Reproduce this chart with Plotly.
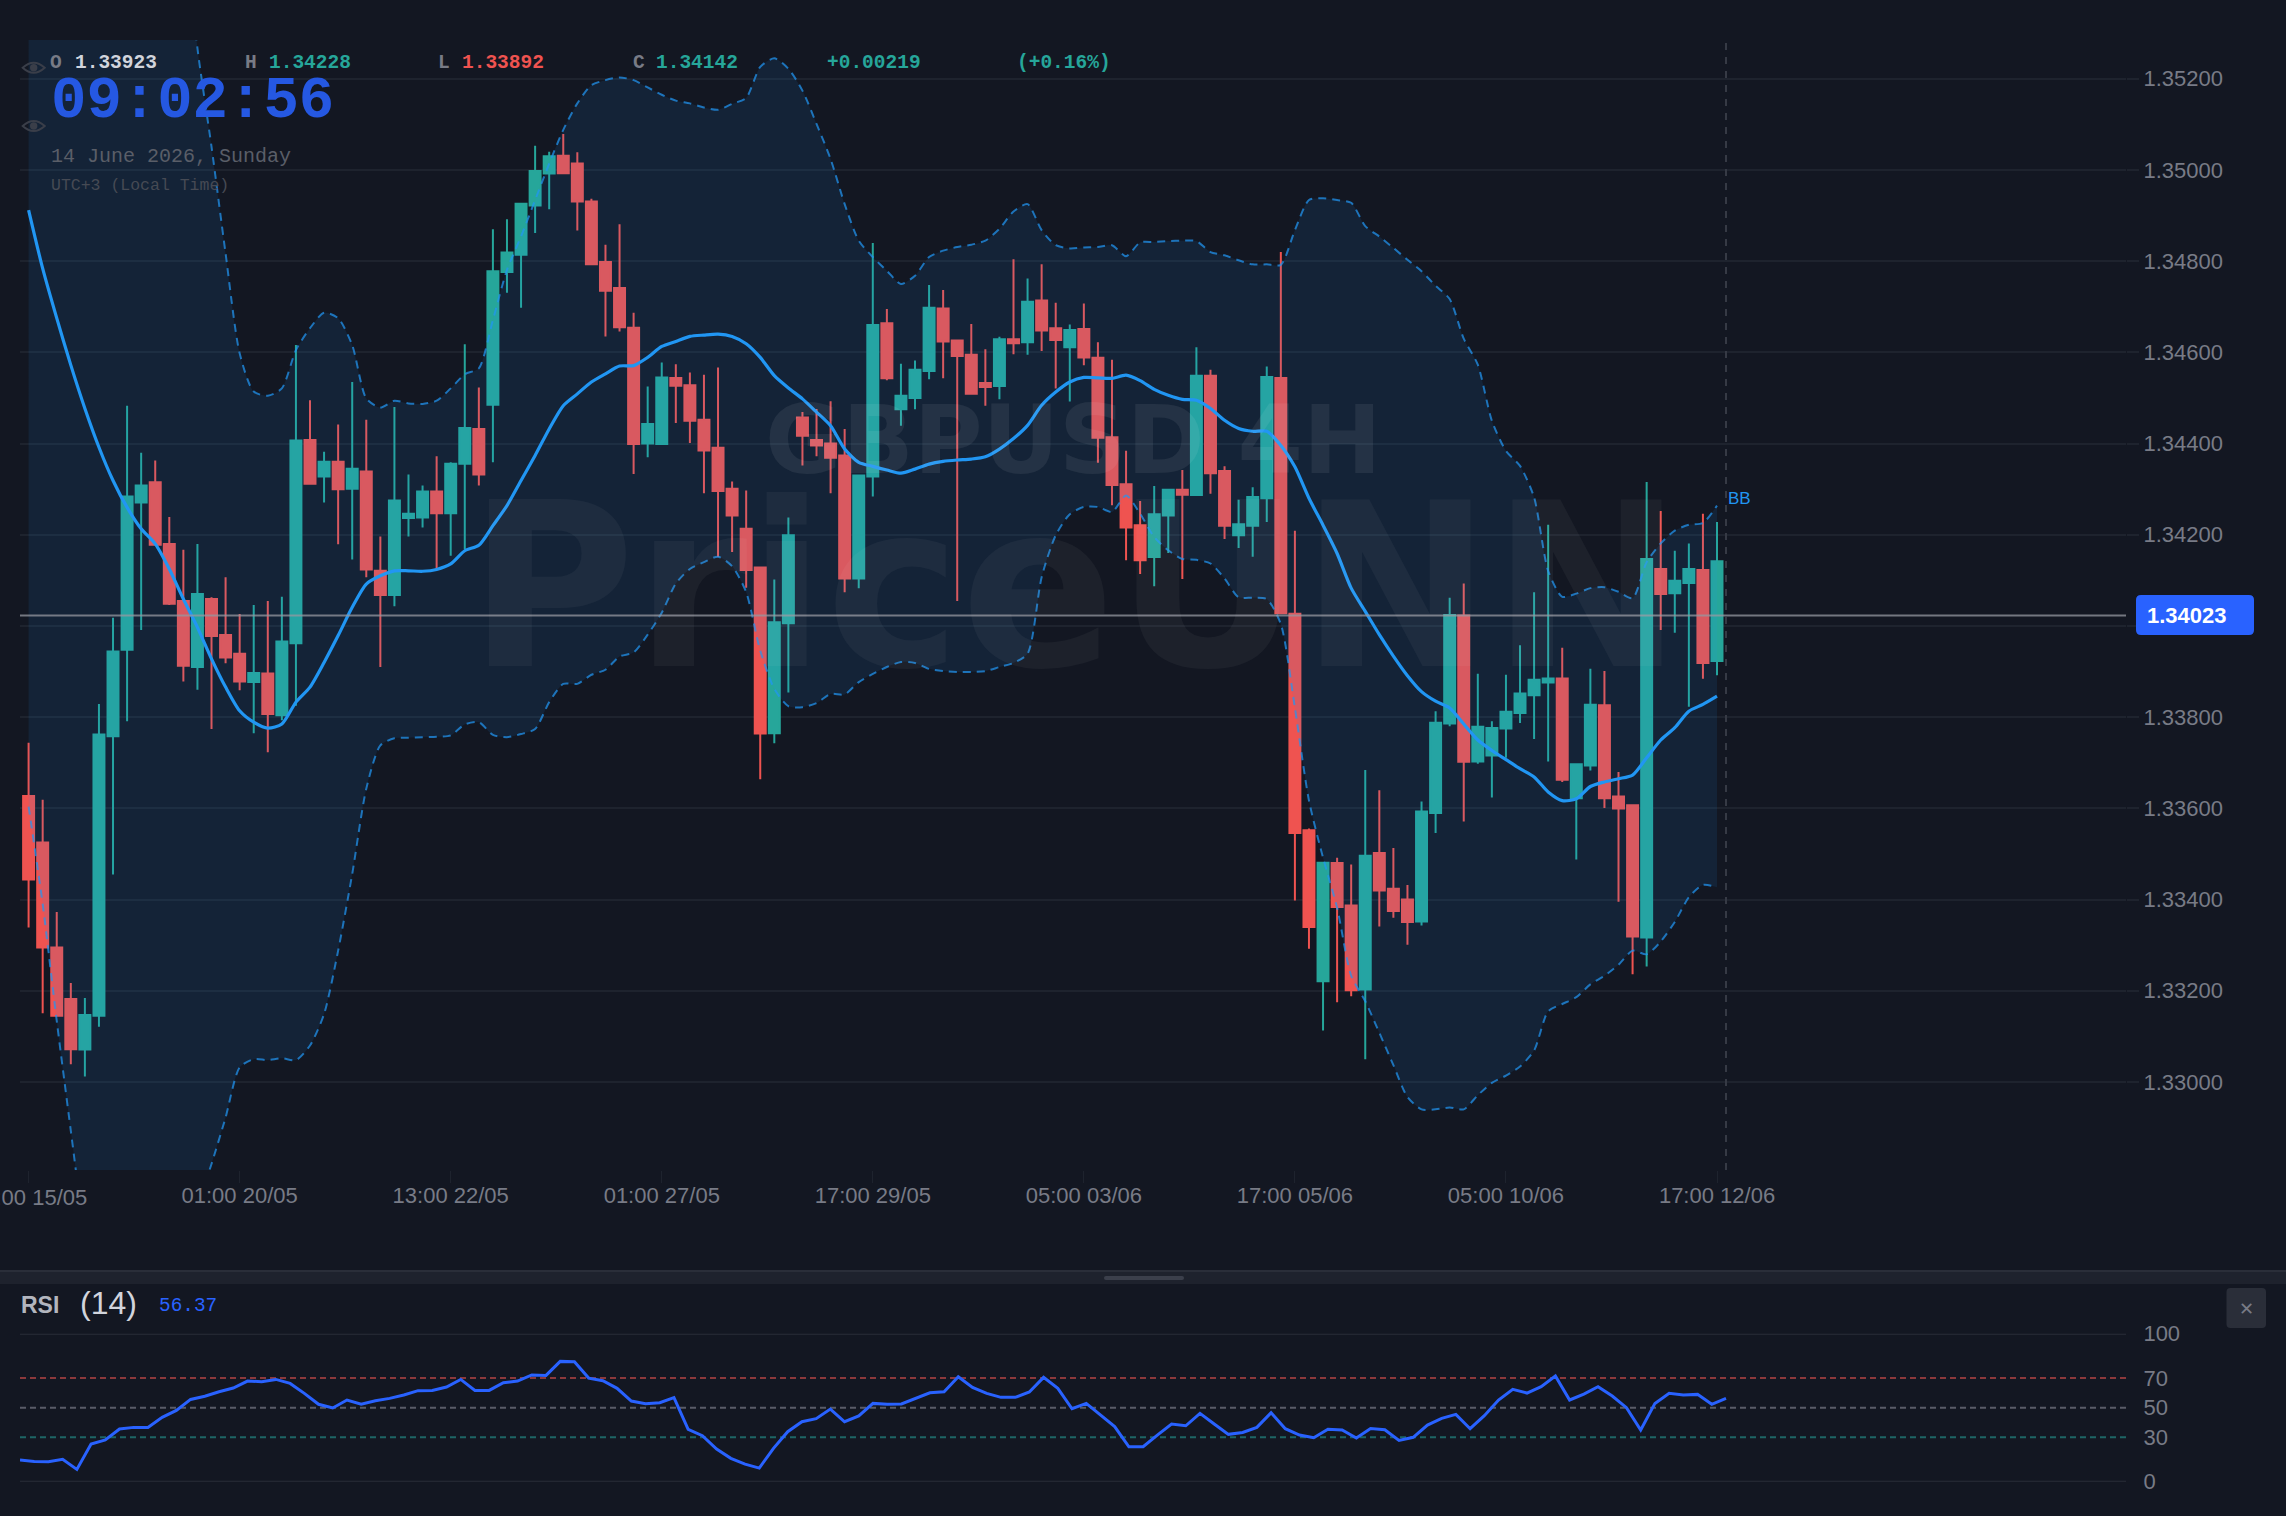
import plotly.graph_objects as go

W, H = 2286, 1516

# GBPUSD 4H candles
open_prices = [
    1.33627, 1.33525, 1.33295, 1.33182, 1.33071, 1.33145, 1.33758, 1.33948, 1.34271, 1.34315,
    1.34180, 1.34055, 1.33910, 1.34059, 1.33980, 1.33939, 1.33877, 1.33896, 1.33804, 1.33962,
    1.34408, 1.34328, 1.34360, 1.34301, 1.34339, 1.34121, 1.34068, 1.34237, 1.34238, 1.34295,
    1.34247, 1.34356, 1.34432, 1.34485, 1.34776, 1.34814, 1.34922, 1.34992, 1.35031, 1.35014,
    1.34931, 1.34798, 1.34741, 1.34654, 1.34400, 1.34399, 1.34544, 1.34528, 1.34452, 1.34391,
    1.34301, 1.34213, 1.34128, 1.33765, 1.34006, 1.34457, 1.34408, 1.34400, 1.34374, 1.34104,
    1.34328, 1.34664, 1.34475, 1.34500, 1.34559, 1.34696, 1.34626, 1.34595, 1.34533, 1.34526,
    1.34629, 1.34622, 1.34714, 1.34653, 1.34611, 1.34651, 1.34588, 1.34414, 1.34311, 1.34221,
    1.34151, 1.34242, 1.34299, 1.34287, 1.34549, 1.34340, 1.34199, 1.34220, 1.34280, 1.34544,
    1.34027, 1.33552, 1.33221, 1.33480, 1.33387, 1.33203, 1.33502, 1.33424, 1.33400, 1.33352,
    1.33590, 1.33786, 1.34023, 1.33703, 1.33716, 1.33775, 1.33809, 1.33848, 1.33876, 1.33885,
    1.33622, 1.33694, 1.33826, 1.33626, 1.33607, 1.33317, 1.34125, 1.34072, 1.34094, 1.34123,
    1.33923,
]
high_prices = [
    1.33744, 1.33619, 1.33373, 1.33217, 1.33184, 1.33829, 1.34018, 1.34483, 1.34380, 1.34363,
    1.34239, 1.34167, 1.34180, 1.34063, 1.34107, 1.34026, 1.34046, 1.34055, 1.34064, 1.34616,
    1.34495, 1.34382, 1.34442, 1.34535, 1.34452, 1.34196, 1.34480, 1.34332, 1.34308, 1.34372,
    1.34359, 1.34618, 1.34523, 1.34870, 1.34892, 1.34928, 1.35053, 1.35040, 1.35079, 1.35039,
    1.34937, 1.34836, 1.34881, 1.34687, 1.34525, 1.34578, 1.34574, 1.34556, 1.34551, 1.34567,
    1.34317, 1.34297, 1.34128, 1.34102, 1.34238, 1.34469, 1.34476, 1.34493, 1.34432, 1.34332,
    1.34840, 1.34695, 1.34575, 1.34582, 1.34748, 1.34737, 1.34628, 1.34662, 1.34607, 1.34634,
    1.34804, 1.34762, 1.34793, 1.34709, 1.34661, 1.34707, 1.34622, 1.34584, 1.34384, 1.34274,
    1.34307, 1.34300, 1.34342, 1.34611, 1.34562, 1.34350, 1.34277, 1.34304, 1.34569, 1.34820,
    1.34209, 1.33556, 1.33481, 1.33492, 1.33477, 1.33684, 1.33640, 1.33513, 1.33432, 1.33615,
    1.33813, 1.34062, 1.34093, 1.33895, 1.33791, 1.33893, 1.33958, 1.34074, 1.34222, 1.33952,
    1.33697, 1.33906, 1.33901, 1.33680, 1.33607, 1.34316, 1.34252, 1.34165, 1.34181, 1.34246,
    1.34228,
]
low_prices = [
    1.33339, 1.33151, 1.33143, 1.33039, 1.33012, 1.33121, 1.33455, 1.33791, 1.33991, 1.34178,
    1.34046, 1.33878, 1.33860, 1.33774, 1.33918, 1.33859, 1.33765, 1.33723, 1.33793, 1.33825,
    1.34310, 1.34271, 1.34179, 1.34146, 1.34107, 1.33910, 1.34043, 1.34196, 1.34216, 1.34125,
    1.34154, 1.34169, 1.34308, 1.34359, 1.34731, 1.34698, 1.34862, 1.34914, 1.34993, 1.34867,
    1.34792, 1.34635, 1.34646, 1.34333, 1.34370, 1.34399, 1.34445, 1.34401, 1.34291, 1.34151,
    1.34162, 1.34084, 1.33664, 1.33743, 1.33854, 1.34352, 1.34372, 1.34291, 1.34074, 1.34083,
    1.34284, 1.34539, 1.34439, 1.34475, 1.34541, 1.34543, 1.34055, 1.34507, 1.34483, 1.34497,
    1.34596, 1.34595, 1.34603, 1.34521, 1.34492, 1.34572, 1.34358, 1.34265, 1.34144, 1.34114,
    1.34087, 1.34160, 1.34103, 1.34287, 1.34290, 1.34191, 1.34171, 1.34152, 1.34228, 1.34028,
    1.33398, 1.33292, 1.33113, 1.33175, 1.33188, 1.33050, 1.33341, 1.33360, 1.33301, 1.33343,
    1.33546, 1.33780, 1.33571, 1.33698, 1.33624, 1.33711, 1.33787, 1.33752, 1.33703, 1.33658,
    1.33488, 1.33683, 1.33601, 1.33395, 1.33236, 1.33253, 1.33991, 1.33985, 1.33823, 1.33884,
    1.33892,
]
close_prices = [
    1.33444, 1.33295, 1.33145, 1.33072, 1.33147, 1.33762, 1.33944, 1.34284, 1.34308, 1.34178,
    1.34049, 1.33913, 1.34070, 1.33978, 1.33931, 1.33878, 1.33897, 1.33807, 1.33966, 1.34407,
    1.34312, 1.34360, 1.34300, 1.34345, 1.34124, 1.34068, 1.34275, 1.34246, 1.34295, 1.34247,
    1.34356, 1.34434, 1.34332, 1.34778, 1.34819, 1.34926, 1.34998, 1.35030, 1.34993, 1.34931,
    1.34793, 1.34735, 1.34655, 1.34399, 1.34443, 1.34545, 1.34527, 1.34450, 1.34385, 1.34296,
    1.34242, 1.34123, 1.33764, 1.34008, 1.34199, 1.34417, 1.34396, 1.34369, 1.34104, 1.34330,
    1.34660, 1.34543, 1.34505, 1.34562, 1.34698, 1.34624, 1.34592, 1.34509, 1.34524, 1.34629,
    1.34620, 1.34711, 1.34648, 1.34627, 1.34649, 1.34589, 1.34413, 1.34309, 1.34216, 1.34144,
    1.34245, 1.34299, 1.34288, 1.34549, 1.34335, 1.34220, 1.34223, 1.34283, 1.34546, 1.34028,
    1.33546, 1.33340, 1.33481, 1.33384, 1.33201, 1.33496, 1.33420, 1.33375, 1.33351, 1.33593,
    1.33788, 1.34024, 1.33702, 1.33779, 1.33776, 1.33812, 1.33852, 1.33882, 1.33885, 1.33663,
    1.33697, 1.33827, 1.33622, 1.33600, 1.33319, 1.34147, 1.34070, 1.34099, 1.34125, 1.33919,
    1.34142,
]

# Bollinger Bands
bb_upper = [
    1.36220, 1.36178, 1.36216, 1.36251, 1.36294, 1.36284, 1.36258, 1.36200, 1.36126, 1.36060,
    1.35910, 1.35568, 1.35267, 1.35051, 1.34817, 1.34598, 1.34514, 1.34505, 1.34521, 1.34605,
    1.34653, 1.34687, 1.34675, 1.34616, 1.34499, 1.34479, 1.34494, 1.34488, 1.34487, 1.34494,
    1.34521, 1.34552, 1.34565, 1.34671, 1.34781, 1.34854, 1.34934, 1.35014, 1.35088, 1.35146,
    1.35186, 1.35197, 1.35203, 1.35197, 1.35181, 1.35165, 1.35152, 1.35146, 1.35137, 1.35132,
    1.35145, 1.35158, 1.35226, 1.35245, 1.35222, 1.35174, 1.35101, 1.35024, 1.34925, 1.34845,
    1.34809, 1.34779, 1.34750, 1.34768, 1.34809, 1.34823, 1.34831, 1.34836, 1.34845, 1.34871,
    1.34909, 1.34925, 1.34868, 1.34835, 1.34828, 1.34830, 1.34831, 1.34835, 1.34811, 1.34841,
    1.34842, 1.34844, 1.34845, 1.34844, 1.34820, 1.34813, 1.34802, 1.34793, 1.34793, 1.34792,
    1.34868, 1.34934, 1.34938, 1.34934, 1.34928, 1.34877, 1.34854, 1.34829, 1.34803, 1.34778,
    1.34746, 1.34717, 1.34630, 1.34573, 1.34450, 1.34384, 1.34351, 1.34282, 1.34121, 1.34064,
    1.34071, 1.34083, 1.34085, 1.34075, 1.34061, 1.34140, 1.34181, 1.34209, 1.34222, 1.34226,
    1.34264,
]
bb_middle = [
    1.34912, 1.34784, 1.34675, 1.34572, 1.34477, 1.34392, 1.34319, 1.34260, 1.34213, 1.34180,
    1.34125, 1.34059, 1.33997, 1.33928, 1.33866, 1.33814, 1.33789, 1.33776, 1.33785, 1.33833,
    1.33866, 1.33920, 1.33979, 1.34041, 1.34092, 1.34110, 1.34121, 1.34121, 1.34120, 1.34124,
    1.34136, 1.34165, 1.34177, 1.34220, 1.34264, 1.34319, 1.34374, 1.34432, 1.34483, 1.34509,
    1.34535, 1.34553, 1.34570, 1.34571, 1.34589, 1.34613, 1.34624, 1.34635, 1.34638, 1.34640,
    1.34635, 1.34619, 1.34589, 1.34549, 1.34522, 1.34498, 1.34469, 1.34439, 1.34388, 1.34359,
    1.34350, 1.34342, 1.34335, 1.34344, 1.34355, 1.34361, 1.34364, 1.34366, 1.34371, 1.34388,
    1.34411, 1.34440, 1.34484, 1.34513, 1.34535, 1.34545, 1.34544, 1.34543, 1.34550, 1.34538,
    1.34519, 1.34506, 1.34497, 1.34495, 1.34477, 1.34451, 1.34433, 1.34427, 1.34427, 1.34396,
    1.34349, 1.34280, 1.34221, 1.34159, 1.34083, 1.34032, 1.33981, 1.33934, 1.33891, 1.33856,
    1.33835, 1.33820, 1.33785, 1.33750, 1.33727, 1.33707, 1.33687, 1.33669, 1.33636, 1.33617,
    1.33621, 1.33648, 1.33658, 1.33665, 1.33673, 1.33711, 1.33750, 1.33777, 1.33813, 1.33828,
    1.33846,
]
bb_lower = [
    1.33604, 1.33390, 1.33134, 1.32893, 1.32660, 1.32500, 1.32380, 1.32320, 1.32300, 1.32300,
    1.32340, 1.32550, 1.32727, 1.32820, 1.32922, 1.33032, 1.33050, 1.33048, 1.33052, 1.33048,
    1.33080, 1.33149, 1.33288, 1.33456, 1.33643, 1.33738, 1.33754, 1.33755, 1.33756, 1.33757,
    1.33760, 1.33784, 1.33789, 1.33761, 1.33756, 1.33763, 1.33774, 1.33833, 1.33873, 1.33873,
    1.33893, 1.33904, 1.33933, 1.33942, 1.33981, 1.34029, 1.34093, 1.34125, 1.34140, 1.34152,
    1.34131, 1.34074, 1.33946, 1.33862, 1.33824, 1.33822, 1.33831, 1.33851, 1.33850, 1.33877,
    1.33895, 1.33910, 1.33921, 1.33919, 1.33906, 1.33901, 1.33899, 1.33899, 1.33901, 1.33910,
    1.33919, 1.33939, 1.34107, 1.34199, 1.34245, 1.34261, 1.34261, 1.34250, 1.34286, 1.34246,
    1.34195, 1.34166, 1.34147, 1.34145, 1.34137, 1.34104, 1.34063, 1.34062, 1.34059, 1.34004,
    1.33820, 1.33617, 1.33492, 1.33382, 1.33233, 1.33177, 1.33108, 1.33037, 1.32967, 1.32940,
    1.32940, 1.32944, 1.32940, 1.32971, 1.32998, 1.33014, 1.33034, 1.33069, 1.33155, 1.33171,
    1.33186, 1.33214, 1.33233, 1.33257, 1.33288, 1.33280, 1.33308, 1.33351, 1.33405, 1.33432,
    1.33427,
]

# RSI (14)
rsi_values = [
    14.6, 13.7, 13.5, 15.1, 8.3, 25.5, 28.2, 35.6, 36.7, 36.7,
    43.5, 48.2, 55.6, 57.7, 60.8, 63.3, 68.0, 67.6, 69.1, 66.4,
    59.7, 52.3, 49.8, 55.2, 52.3, 54.7, 56.3, 58.6, 61.5, 61.7,
    64.0, 69.1, 61.7, 61.7, 66.9, 68.0, 72.1, 71.8, 81.3, 81.1,
    70.0, 68.2, 63.1, 54.5, 52.7, 53.4, 56.8, 35.4, 31.1, 22.1,
    15.8, 11.9, 9.2, 22.5, 33.8, 40.5, 42.6, 49.1, 40.5, 44.4,
    52.9, 52.3, 52.5, 56.3, 60.1, 60.8, 70.9, 63.7, 59.7, 57.0,
    57.0, 60.6, 70.5, 63.1, 49.3, 52.9, 45.0, 37.2, 23.6, 23.6,
    31.5, 39.0, 37.8, 46.2, 39.0, 32.0, 33.3, 36.7, 46.6, 35.8,
    31.5, 29.7, 35.4, 34.9, 29.5, 36.0, 35.1, 27.9, 30.0, 38.3,
    42.8, 45.5, 35.8, 44.6, 55.2, 62.4, 59.9, 64.2, 71.4, 55.2,
    59.2, 64.2, 57.9, 50.0, 34.9, 52.9, 59.7, 58.6, 59.0, 52.3,
    56.37,
]
rsi_levels = [100, 70, 50, 30, 0]

candle_index = list(range(len(open_prices)))
time_ticks = [0, 15, 30, 45, 60, 75, 90, 105, 120]
time_labels = ["13:00 15/05", "01:00 20/05", "13:00 22/05", "01:00 27/05", "17:00 29/05",
               "05:00 03/06", "17:00 05/06", "05:00 10/06", "17:00 12/06"]
price_ticks = [1.33, 1.332, 1.334, 1.336, 1.338, 1.34, 1.342, 1.344, 1.346, 1.348, 1.35, 1.352]
last_price = 1.34023
crosshair_index = 120.64

BG = "#131722"
GRID = "#1e232e"
UP = "#26a69a"
DOWN = "#ef5350"
BLUE = "#2196f3"
RSI_BLUE = "#2962ff"
MUTED = "#787b86"
SANS = "Liberation Sans"
MONO = "Liberation Mono"

# Pane geometry in page pixels
PLOT_L, PLOT_R = 20, 2126
MAIN_T, MAIN_B = 40, 1170
RSI_T, RSI_B = 1333.7, 1481.7
CANDLE_X0, CANDLE_STEP = 28.6, 14.07
RSI_STEP = (1726 - 20) / 120


def px(x):
    return x / W


def py(y):
    return 1 - y / H


def rounded(x0, y0, x1, y1, r):
    a, b, c, d = px(x0), py(y0), px(x1), py(y1)
    rx, ry = r / W, r / H
    return (f"M{a + rx},{b} L{c - rx},{b} Q{c},{b} {c},{b - ry} L{c},{d + ry} Q{c},{d} {c - rx},{d} "
            f"L{a + rx},{d} Q{a},{d} {a},{d + ry} L{a},{b - ry} Q{a},{b} {a + rx},{b} Z")


def eye(cx, cy):
    a, b = px(cx - 11), px(cx + 11)
    m, t, u, y = px(cx), py(cy - 10), py(cy + 10), py(cy)
    return f"M{a},{y} Q{m},{t} {b},{y} Q{m},{u} {a},{y} Z"


def label(x, y, text, size, color, family=MONO, bold=False, anchor="left"):
    return dict(x=px(x), y=py(y), xref="paper", yref="paper", text=f"<b>{text}</b>" if bold else text,
                showarrow=False, xanchor=anchor, yanchor="middle", borderpad=0,
                font=dict(family=family, size=size, color=color))


fig = go.Figure()

fig.add_trace(go.Candlestick(
    x=candle_index, open=open_prices, high=high_prices, low=low_prices, close=close_prices,
    whiskerwidth=0, hoverinfo="skip",
    increasing=dict(line=dict(color=UP, width=2), fillcolor=UP),
    decreasing=dict(line=dict(color=DOWN, width=2), fillcolor=DOWN),
    xaxis="x", yaxis="y",
))

band_line = dict(color="rgba(33,150,243,0.72)", width=2, dash="8px,6px", shape="spline", smoothing=0.7)
fig.add_trace(go.Scatter(x=candle_index, y=bb_upper, mode="lines", line=band_line, hoverinfo="skip"))
fig.add_trace(go.Scatter(x=candle_index, y=bb_lower, mode="lines", line=band_line, hoverinfo="skip",
                         fill="tonexty", fillcolor="rgba(33,150,243,0.1)"))
fig.add_trace(go.Scatter(x=candle_index, y=bb_middle, mode="lines", hoverinfo="skip",
                         line=dict(color=BLUE, width=3.2, shape="spline", smoothing=0.7)))
fig.add_trace(go.Scatter(x=candle_index, y=rsi_values, mode="lines", hoverinfo="skip",
                         line=dict(color=RSI_BLUE, width=3), xaxis="x2", yaxis="y2"))

shapes = [
    # Resize strip above the RSI pane
    dict(type="rect", xref="paper", yref="paper", x0=0, x1=1, y0=py(1284), y1=py(1272),
         fillcolor="#1e222d", line_width=0, layer="below"),
    dict(type="line", xref="paper", yref="paper", x0=0, x1=1, y0=py(1271), y1=py(1271),
         line=dict(color="#2a2e39", width=2), layer="below"),
    dict(type="path", xref="paper", yref="paper", path=rounded(1104, 1276, 1184, 1280, 2),
         fillcolor="#3b3f4b", line_width=0),
    # RSI close button
    dict(type="path", xref="paper", yref="paper", path=rounded(2226.5, 1288, 2266, 1328, 4),
         fillcolor="#2a2e39", line_width=0),
    # Last price marker
    dict(type="line", xref="paper", yref="y", x0=px(PLOT_L), x1=px(PLOT_R), y0=last_price, y1=last_price,
         line=dict(color="rgba(150,152,160,0.75)", width=2)),
    dict(type="path", xref="paper", yref="paper", path=rounded(2136, 595, 2254, 635, 5),
         fillcolor=RSI_BLUE, line_width=0),
    # Crosshair
    dict(type="line", xref="x", yref="paper", x0=crosshair_index, x1=crosshair_index, y0=py(MAIN_B), y1=py(MAIN_T),
         line=dict(color="#363a45", width=2, dash="7px,7px")),
]

# Visibility toggles
for cy in (67.7, 126):
    shapes.append(dict(type="path", xref="paper", yref="paper", path=eye(33.7, cy),
                       fillcolor="rgba(0,0,0,0)", line=dict(color="#3a3e49", width=2)))
    shapes.append(dict(type="circle", xref="paper", yref="paper", x0=px(30), x1=px(37.4),
                       y0=py(cy + 3.7), y1=py(cy - 3.7), fillcolor="#3a3e49", line_width=0))

# RSI pane bounds and reference levels
level_colors = {100: "#2a2e39", 0: "#2a2e39", 70: "rgba(239,83,80,0.55)",
                50: "rgba(120,123,134,0.7)", 30: "rgba(38,166,154,0.55)"}
for level in rsi_levels:
    dashed = level not in (0, 100)
    shapes.append(dict(type="line", xref="paper", yref="y2", x0=px(PLOT_L), x1=px(PLOT_R), y0=level, y1=level,
                       layer="below",
                       line=dict(color=level_colors[level], width=2, dash="6px,4px" if dashed else "solid")))

annotations = [
    # Watermarks
    label(1075, 587, "PriceUNN", 228, "rgba(255,255,255,0.045)", "DejaVu Sans", True, "center"),
    label(1073, 440, "GBPUSD 4H", 94, "rgba(255,255,255,0.07)", "DejaVu Sans", True, "center"),
    # OHLC readout
    label(49, 63, "O", 19.5, MUTED, bold=True),
    label(74, 63, "1.33923", 19.5, "#d1d4dc", bold=True),
    label(244, 63, "H", 19.5, MUTED, bold=True),
    label(268, 63, "1.34228", 19.5, UP, bold=True),
    label(437, 63, "L", 19.5, MUTED, bold=True),
    label(461, 63, "1.33892", 19.5, DOWN, bold=True),
    label(632, 63, "C", 19.5, MUTED, bold=True),
    label(655, 63, "1.34142", 19.5, UP, bold=True),
    label(826, 63, "+0.00219", 19.5, UP, bold=True),
    label(1016, 63, "(+0.16%)", 19.5, UP, bold=True),
    # Clock block
    label(50, 101, "09:02:56", 59, "#2558e2", MONO, True),
    label(50, 157, "14 June 2026, Sunday", 20, "#5a5e68"),
    label(50, 185, "UTC+3 (Local Time)", 16.5, "#464a54"),
    # Series tag and price marker
    label(1727, 498, "BB", 17, BLUE, SANS),
    label(2146, 615, "1.34023", 22, "#ffffff", SANS, True),
    # RSI pane header
    label(20, 1305, "RSI", 23, "#b2b5be", SANS, True),
    label(79, 1303, "(14)", 32, "#d1d4dc", SANS),
    label(158, 1306, "56.37", 19.4, RSI_BLUE),
    label(2246, 1308, "✕", 18, MUTED, "DejaVu Sans", False, "center"),
    # First time label runs off the left page edge
    label(CANDLE_X0, 1197, time_labels[0], 22, MUTED, SANS, False, "center"),
]

axis_font = dict(family=SANS, size=22, color=MUTED)

fig.update_layout(
    width=W, height=H,
    margin=dict(l=0, r=0, t=0, b=0, autoexpand=False),
    paper_bgcolor=BG, plot_bgcolor=BG,
    showlegend=False, hovermode=False, boxgap=0.22, boxgroupgap=0,
    shapes=shapes, annotations=annotations,
    xaxis=dict(
        domain=[px(PLOT_L), px(PLOT_R)],
        range=[(PLOT_L - CANDLE_X0) / CANDLE_STEP, (PLOT_R - CANDLE_X0) / CANDLE_STEP],
        rangeslider=dict(visible=False), anchor="y",
        tickmode="array", tickvals=time_ticks, ticktext=[""] + time_labels[1:], tickangle=0,
        ticks="outside", ticklen=12, tickwidth=1, tickcolor=GRID, ticklabelstandoff=-6,
        tickfont=axis_font, showgrid=False, zeroline=False, showline=False,
    ),
    yaxis=dict(
        domain=[py(MAIN_B), py(MAIN_T)], range=[1.32807, 1.35285], side="right", anchor="x",
        tickmode="array", tickvals=price_ticks,
        # The 1.34000 slot sits under the last price marker
        ticktext=["" if abs(v - 1.34) < 1e-9 else f"{v:.5f}" for v in price_ticks],
        ticks="outside", ticklen=12, tickwidth=2, tickcolor=GRID,
        tickfont=axis_font, showgrid=True, gridcolor=GRID, gridwidth=2,
        zeroline=False, showline=False,
    ),
    xaxis2=dict(
        domain=[px(PLOT_L), px(PLOT_R)], range=[0, (PLOT_R - PLOT_L) / RSI_STEP],
        anchor="y2", visible=False,
    ),
    yaxis2=dict(
        domain=[py(RSI_B), py(RSI_T)], range=[0, 100], side="right", anchor="x2",
        tickmode="array", tickvals=rsi_levels, ticktext=[str(v) for v in rsi_levels],
        ticks="outside", ticklen=12, tickcolor="rgba(0,0,0,0)",
        tickfont=axis_font, showgrid=False, zeroline=False, showline=False,
    ),
)

fig.write_html("out.html", config=dict(displayModeBar=False))
